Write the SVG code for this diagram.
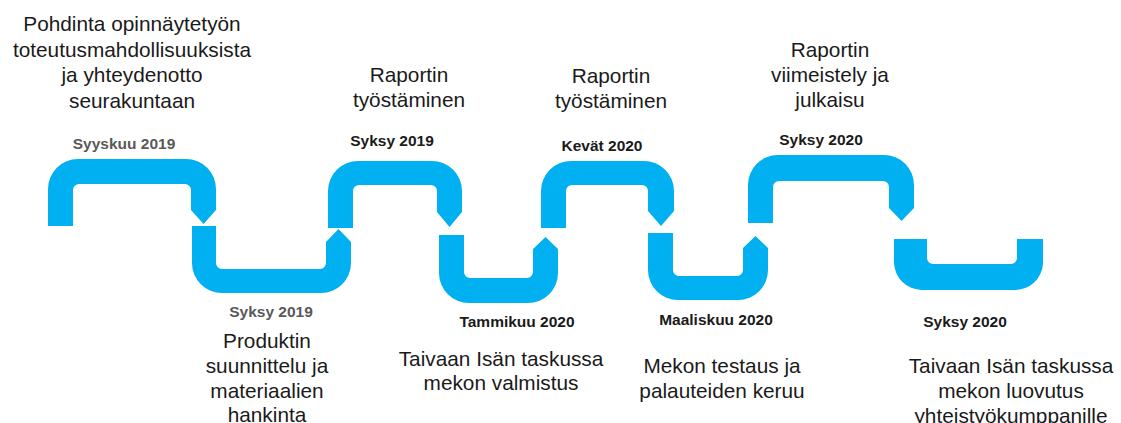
<svg xmlns="http://www.w3.org/2000/svg" width="1121" height="423" viewBox="0 0 1121 423">
<style>
.pipe{fill:#00B0F0}
.t{font-family:"Liberation Sans",Arial,sans-serif;font-size:20.8px;fill:#1a1a1a;text-anchor:middle}
.d{font-family:"Liberation Sans",Arial,sans-serif;font-size:15.5px;font-weight:bold;fill:#1a1a1a;text-anchor:middle}
.g{fill:#595959}
</style>
<rect width="1121" height="423" fill="#fff"/>
<g id="step1">
<path class="pipe" d="M48,226 V189 A30,30 0 0 1 78,159 H186 A30,30 0 0 1 216,189 V210 L203.5,224 L191,210 V190 A6,6 0 0 0 185,184 H79 A6,6 0 0 0 73,190 V226 Z"/>
<text class="d g" x="124" y="149">Syyskuu 2019</text>
<text class="t" x="132" y="31">Pohdinta opinnäytetyön</text>
<text class="t" x="132" y="57">toteutusmahdollisuuksista</text>
<text class="t" x="132" y="82">ja yhteydenotto</text>
<text class="t" x="132" y="108">seurakuntaan</text>
</g>
<g id="step2">
<path class="pipe" d="M192,226 H216 V263 A6,6 0 0 0 222,269 H320 A6,6 0 0 0 326,263 V242 L338.5,229 L351,242 V263 A30,30 0 0 1 321,293 H222 A30,30 0 0 1 192,263 Z"/>
<text class="d g" x="271" y="317">Syksy 2019</text>
<text class="t" x="267" y="348">Produktin</text>
<text class="t" x="267" y="373">suunnittelu ja</text>
<text class="t" x="267" y="398">materiaalien</text>
<text class="t" x="267" y="422">hankinta</text>
</g>
<g id="step3">
<path class="pipe" d="M328,228 V191 A30,30 0 0 1 358,161 H432 A30,30 0 0 1 462,191 V212 L449.5,227 L437,212 V191 A6,6 0 0 0 431,185 H359 A6,6 0 0 0 353,191 V228 Z"/>
<text class="d" x="392" y="146">Syksy 2019</text>
<text class="t" x="409" y="82">Raportin</text>
<text class="t" x="409" y="107">työstäminen</text>
</g>
<g id="step4">
<path class="pipe" d="M439,235 H464 V272 A6,6 0 0 0 470,278 H527 A6,6 0 0 0 533,272 V249 L545.5,237 L558,249 V273 A30,30 0 0 1 528,303 H469 A30,30 0 0 1 439,273 Z"/>
<text class="d" x="517" y="327">Tammikuu 2020</text>
<text class="t" x="501" y="366">Taivaan Isän taskussa</text>
<text class="t" x="501" y="390">mekon valmistus</text>
</g>
<g id="step5">
<path class="pipe" d="M541,228 V191 A30,30 0 0 1 571,161 H644 A30,30 0 0 1 674,191 V211 L661,226 L648,211 V191 A6,6 0 0 0 642,185 H572 A6,6 0 0 0 566,191 V228 Z"/>
<text class="d" x="602" y="151">Kevät 2020</text>
<text class="t" x="611" y="83">Raportin</text>
<text class="t" x="611" y="108">työstäminen</text>
</g>
<g id="step6">
<path class="pipe" d="M648,233 H673 V270 A6,6 0 0 0 679,276 H737 A6,6 0 0 0 743,270 V248 L755.5,236 L768,248 V270 A30,30 0 0 1 738,300 H678 A30,30 0 0 1 648,270 Z"/>
<text class="d" x="716" y="325">Maaliskuu 2020</text>
<text class="t" x="722" y="373">Mekon testaus ja</text>
<text class="t" x="722" y="398">palauteiden keruu</text>
</g>
<g id="step7">
<path class="pipe" d="M748,223 V185 A30,30 0 0 1 778,155 H884 A30,30 0 0 1 914,185 V208 L901.5,221 L889,208 V187 A6,6 0 0 0 883,181 H779 A6,6 0 0 0 773,187 V223 Z"/>
<text class="d" x="821" y="145">Syksy 2020</text>
<text class="t" x="830" y="57">Raportin</text>
<text class="t" x="830" y="82">viimeistely ja</text>
<text class="t" x="830" y="107">julkaisu</text>
</g>
<g id="step8">
<path class="pipe" d="M894,239 H927 V258 A6,6 0 0 0 933,264 H1011 A6,6 0 0 0 1017,258 V239 H1043 V264 A28,28 0 0 1 1015,290 H922 A28,28 0 0 1 894,262 Z"/>
<text class="d" x="965" y="327">Syksy 2020</text>
<text class="t" x="1011" y="373">Taivaan Isän taskussa</text>
<text class="t" x="1011" y="398">mekon luovutus</text>
<text class="t" x="1011" y="423">yhteistyökumppanille</text>
</g>
<g id="connectors"/>
</svg>
